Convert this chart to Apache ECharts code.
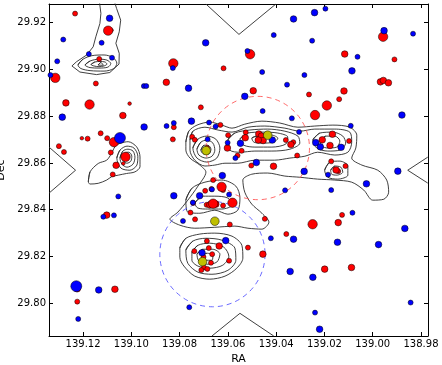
<!DOCTYPE html>
<html><head><meta charset="utf-8">
<script src="https://cdn.jsdelivr.net/npm/echarts@6/dist/echarts.min.js"></script>
<style>html,body{margin:0;padding:0;background:#fff}#c{width:442px;height:365px}</style>
</head><body><div id="c"></div>
<script>
// ---------- data (RA, Dec) ----------
const xTicks = [139.12, 139.10, 139.08, 139.06, 139.04, 139.02, 139.00, 138.98];
const yTicks = [29.80, 29.82, 29.84, 29.86, 29.88, 29.90, 29.92];
const raRange = [138.9771, 139.1341];
const decRange = [29.786, 29.928];

const redTiny = [[139.1082,29.9168],[139.1007,29.8854],[139.1205,29.8706],[139.1033,29.8598]];
const redSmall = [[139.1233,29.9239],[139.1133,29.9045],[139.1147,29.8940],[139.0712,29.8838],[139.0824,29.8753],[139.0828,29.8701],[139.1127,29.8727],[139.1181,29.8704],[139.1100,29.8706],[139.1300,29.8672],[139.1279,29.8647],[139.1085,29.8645],[139.1077,29.8551],[139.0748,29.8712],[139.0737,29.8699],[139.0686,29.8664],[139.0631,29.8763],[138.9910,29.9043],[139.0618,29.9005],[139.0264,29.8893],[139.0139,29.8873],[139.0599,29.8719],[139.0526,29.8731],[139.0543,29.8652],[139.0560,29.8632],[139.0360,29.8698],[139.0329,29.8689],[139.0098,29.8694],[139.0313,29.8632],[139.0503,29.8589],[139.0172,29.8607],[139.0113,29.8587],[139.0143,29.8565],[139.0661,29.8527],[139.0620,29.8484],[139.0694,29.8481],[139.0668,29.8489],[139.0688,29.8421],[139.0620,29.8418],[139.0744,29.8429],[139.0755,29.8388],[139.0736,29.8359],[139.0592,29.8337],[139.0517,29.8238],[139.0687,29.8266],[139.0679,29.8236],[139.0739,29.8223],[139.0665,29.8210],[139.0701,29.8198],[139.0595,29.8182],[139.0699,29.8153],[139.0685,29.8147],[139.0710,29.8142],[139.0670,29.8173],[139.0447,29.8361],[139.0358,29.8296],[139.0127,29.8378],[139.1224,29.8007]];
const redMedium = [[139.0855,29.8945],[139.1271,29.8857],[139.1035,29.8803],[139.1063,29.8590],[139.0116,29.9066],[138.9968,29.8947],[138.9956,29.8953],[138.9935,29.8943],[139.0495,29.8909],[139.0119,29.8908],[139.0528,29.8708],[139.0602,29.8664],[139.0472,29.8724],[139.0461,29.8715],[139.0454,29.8696],[139.0474,29.8698],[139.0339,29.8679],[139.0209,29.8699],[139.0167,29.8723],[139.0177,29.8675],[139.0411,29.8586],[139.0152,29.8570],[139.0675,29.8421],[139.0650,29.8424],[139.0636,29.8245],[139.0455,29.8210],[139.0143,29.8345],[139.0199,29.8146],[139.0088,29.8153],[139.1224,29.8062],[139.1068,29.8060],[139.1102,29.8377]];
const redLarge = [[139.1096,29.9166],[139.0826,29.9026],[139.1315,29.8964],[139.1173,29.8850],[139.1072,29.8689],[139.1024,29.8626],[139.0508,29.9065],[138.9957,29.9140],[139.0190,29.8846],[139.0239,29.8805],[139.0626,29.8498],[139.0581,29.8430],[139.0661,29.8426],[139.0249,29.8338]];

const blueSmall = [[139.1282,29.9128],[139.1123,29.9114],[139.1176,29.9066],[139.1080,29.9050],[139.1307,29.9035],[139.0828,29.9006],[139.1335,29.8976],[139.0948,29.8929],[139.0938,29.8929],[139.0854,29.8758],[139.0824,29.8771],[139.0684,29.8701],[139.0678,29.8773],[139.0651,29.8756],[139.0196,29.9260],[139.0410,29.9147],[139.0251,29.9123],[138.9833,29.9153],[139.0519,29.9079],[139.0063,29.9054],[139.0458,29.8989],[139.0283,29.8976],[139.0355,29.8935],[139.0456,29.8822],[139.0335,29.8791],[139.0091,29.8759],[139.0305,29.8733],[139.0601,29.8687],[139.0569,29.8621],[139.0185,29.8550],[139.1054,29.8457],[139.1116,29.8370],[139.1072,29.8376],[139.0745,29.8431],[139.0786,29.8352],[139.1220,29.7933],[139.0760,29.7983],[139.0666,29.8487],[139.0595,29.8465],[139.0422,29.8278],[139.0084,29.8387],[138.9843,29.8003],[139.0239,29.7960],[139.0363,29.8483],[139.0172,29.8484]];
const blueMedium = [[139.1090,29.9219],[139.0692,29.9114],[139.0763,29.8920],[139.1286,29.8796],[139.0947,29.8754],[139.0751,29.8779],[139.0328,29.9216],[139.0241,29.9243],[138.9953,29.9166],[139.0086,29.8994],[139.0530,29.8885],[138.9879,29.8805],[139.0416,29.8698],[139.0548,29.8684],[139.0236,29.8687],[139.0217,29.8669],[139.0131,29.8667],[139.0482,29.8602],[139.0284,29.8564],[138.9896,29.8565],[139.0623,29.8546],[139.0824,29.8460],[139.0717,29.8460],[139.0707,29.8216],[139.1135,29.8057],[139.0609,29.8268],[139.0328,29.8274],[139.0146,29.8261],[138.9976,29.8251],[138.9867,29.8320],[139.0342,29.8136],[139.0248,29.8111],[139.0220,29.7889],[139.0026,29.8511]];
const blueLarge = [[139.1047,29.8707],[139.1228,29.8073]];
const yellowPts = [[139.0690,29.8653],[139.0435,29.8719],[139.0654,29.8351],[139.0705,29.8178]];

// dashed circles: [RA, Dec, radius in Dec]
const redCircle = [[139.0476, 29.8664, 0.0221]];
const blueCircle = [[139.0664, 29.8210, 0.0225]];

// open contour lines (edge features)
const contourOpen = [
  [[139.1133,29.9297],[139.1126,29.9240],[139.1130,29.9197],[139.1147,29.9140],[139.1158,29.9097],[139.1185,29.9062],[139.1227,29.9033],[139.1246,29.9015],[139.1213,29.8989],[139.1144,29.8978],[139.1089,29.8987],[139.1051,29.9023],[139.1050,29.9069],[139.1064,29.9112],[139.1050,29.9161],[139.1044,29.9211],[139.1061,29.9261],[139.1072,29.9297]],
  [[139.0691,29.9280],[139.0554,29.9150],[139.0401,29.9280]],
  [[139.1341,29.8668],[139.1231,29.8569],[139.1341,29.8471]],
  [[138.9772,29.8625],[138.9855,29.8569],[138.9772,29.8514]],
  [[139.0666,29.7860],[139.0550,29.7957],[139.0410,29.7860]]
];
// closed contour lines
const contourClosed = [
  [[139.1221,29.9019],[139.1200,29.9044],[139.1163,29.9059],[139.1113,29.9062],[139.1076,29.9051],[139.1060,29.9027],[139.1072,29.9004],[139.1113,29.8993],[139.1171,29.8995],[139.1209,29.9004]],
  [[139.1192,29.9019],[139.1171,29.9036],[139.1134,29.9044],[139.1101,29.9040],[139.1085,29.9025],[139.1097,29.9010],[139.1134,29.9006],[139.1171,29.9008]],
  [[139.1167,29.9021],[139.1151,29.9032],[139.1130,29.9034],[139.1109,29.9032],[139.1101,29.9023],[139.1113,29.9015],[139.1134,29.9012],[139.1155,29.9015]],
  [[139.1138,29.9019],[139.1126,29.9030],[139.1116,29.9018]],
  [[139.1178,29.8519],[139.1171,29.8562],[139.1137,29.8598],[139.1102,29.8612],[139.1082,29.8641],[139.1068,29.8669],[139.1047,29.8684],[139.1013,29.8691],[139.0978,29.8669],[139.0964,29.8626],[139.0964,29.8584],[139.0985,29.8562],[139.1020,29.8555],[139.1054,29.8548],[139.1082,29.8541],[139.1102,29.8527],[139.1137,29.8513],[139.1171,29.8510]],
  [[139.1060,29.8621],[139.1047,29.8655],[139.1018,29.8672],[139.0989,29.8664],[139.0973,29.8629],[139.0977,29.8591],[139.1006,29.8569],[139.1043,29.8578]],
  [[139.1047,29.8621],[139.1035,29.8651],[139.1014,29.8659],[139.0993,29.8651],[139.0985,29.8625],[139.0993,29.8595],[139.1018,29.8582],[139.1039,29.8595]],
  [[139.1035,29.8625],[139.1027,29.8644],[139.1010,29.8646],[139.0998,29.8629],[139.1002,29.8608],[139.1018,29.8599],[139.1031,29.8608]],
  [[139.0774,29.8689],[139.0762,29.8736],[139.0728,29.8762],[139.0675,29.8775],[139.0625,29.8762],[139.0583,29.8749],[139.0530,29.8766],[139.0459,29.8779],[139.0385,29.8771],[139.0310,29.8753],[139.0240,29.8758],[139.0165,29.8762],[139.0095,29.8753],[139.0066,29.8719],[139.0070,29.8664],[139.0087,29.8621],[139.0045,29.8591],[138.9979,29.8569],[138.9942,29.8527],[138.9934,29.8475],[138.9954,29.8445],[139.0000,29.8441],[139.0037,29.8484],[139.0087,29.8518],[139.0157,29.8527],[139.0228,29.8531],[139.0302,29.8539],[139.0364,29.8544],[139.0435,29.8557],[139.0501,29.8552],[139.0538,29.8527],[139.0530,29.8475],[139.0501,29.8424],[139.0459,29.8385],[139.0430,29.8347],[139.0459,29.8317],[139.0517,29.8321],[139.0571,29.8330],[139.0654,29.8325],[139.0737,29.8321],[139.0799,29.8334],[139.0840,29.8360],[139.0807,29.8390],[139.0766,29.8441],[139.0724,29.8501],[139.0691,29.8561],[139.0716,29.8591],[139.0757,29.8621],[139.0774,29.8655]],
  [[139.0757,29.8698],[139.0745,29.8736],[139.0695,29.8753],[139.0641,29.8741],[139.0583,29.8732],[139.0517,29.8753],[139.0447,29.8758],[139.0364,29.8749],[139.0302,29.8736],[139.0240,29.8745],[139.0157,29.8745],[139.0095,29.8732],[139.0087,29.8689],[139.0103,29.8646],[139.0157,29.8634],[139.0228,29.8646],[139.0281,29.8629],[139.0343,29.8621],[139.0406,29.8612],[139.0488,29.8612],[139.0559,29.8599],[139.0612,29.8599],[139.0654,29.8591],[139.0695,29.8587],[139.0737,29.8612],[139.0757,29.8655]],
  [[139.0600,29.8698],[139.0571,29.8728],[139.0509,29.8741],[139.0435,29.8745],[139.0364,29.8736],[139.0310,29.8715],[139.0302,29.8685],[139.0343,29.8659],[139.0418,29.8651],[139.0488,29.8651],[139.0550,29.8646],[139.0592,29.8655]],
  [[139.0550,29.8702],[139.0517,29.8728],[139.0459,29.8732],[139.0393,29.8728],[139.0352,29.8711],[139.0360,29.8681],[139.0418,29.8668],[139.0488,29.8668],[139.0534,29.8676]],
  [[139.0501,29.8706],[139.0468,29.8719],[139.0418,29.8719],[139.0393,29.8706],[139.0410,29.8689],[139.0459,29.8685],[139.0492,29.8689]],
  [[139.0745,29.8664],[139.0724,29.8702],[139.0687,29.8715],[139.0650,29.8702],[139.0633,29.8664],[139.0646,29.8621],[139.0687,29.8604],[139.0728,29.8621]],
  [[139.0728,29.8659],[139.0712,29.8689],[139.0687,29.8698],[139.0662,29.8685],[139.0654,29.8655],[139.0666,29.8629],[139.0691,29.8621],[139.0720,29.8634]],
  [[139.0712,29.8655],[139.0699,29.8676],[139.0683,29.8676],[139.0670,29.8659],[139.0679,29.8638],[139.0699,29.8638]],
  [[139.0248,29.8698],[139.0219,29.8728],[139.0165,29.8732],[139.0124,29.8715],[139.0112,29.8685],[139.0136,29.8655],[139.0186,29.8651],[139.0232,29.8664]],
  [[139.0219,29.8694],[139.0194,29.8715],[139.0157,29.8715],[139.0136,29.8694],[139.0149,29.8668],[139.0186,29.8664],[139.0211,29.8672]],
  [[139.0199,29.8569],[139.0178,29.8604],[139.0136,29.8608],[139.0103,29.8587],[139.0103,29.8548],[139.0145,29.8531],[139.0186,29.8539]],
  [[139.0174,29.8569],[139.0157,29.8587],[139.0132,29.8582],[139.0124,29.8561],[139.0149,29.8548],[139.0170,29.8552]],
  [[139.0774,29.8441],[139.0749,29.8492],[139.0695,29.8518],[139.0625,29.8527],[139.0567,29.8501],[139.0550,29.8450],[139.0559,29.8398],[139.0600,29.8381],[139.0654,29.8398],[139.0716,29.8385],[139.0766,29.8390]],
  [[139.0737,29.8428],[139.0704,29.8458],[139.0654,29.8458],[139.0600,29.8450],[139.0583,29.8420],[139.0625,29.8403],[139.0683,29.8403],[139.0724,29.8407]],
  [[139.0799,29.8236],[139.0774,29.8278],[139.0716,29.8296],[139.0654,29.8300],[139.0583,29.8287],[139.0542,29.8248],[139.0538,29.8193],[139.0563,29.8150],[139.0612,29.8116],[139.0675,29.8103],[139.0737,29.8116],[139.0782,29.8159],[139.0799,29.8197]],
  [[139.0774,29.8227],[139.0745,29.8266],[139.0691,29.8278],[139.0625,29.8270],[139.0571,29.8236],[139.0567,29.8184],[139.0600,29.8141],[139.0666,29.8124],[139.0724,29.8133],[139.0766,29.8171]],
  [[139.0749,29.8218],[139.0724,29.8248],[139.0675,29.8257],[139.0617,29.8240],[139.0596,29.8201],[139.0621,29.8163],[139.0675,29.8150],[139.0724,29.8159],[139.0749,29.8184]],
  [[139.0728,29.8210],[139.0704,29.8231],[139.0662,29.8231],[139.0633,29.8210],[139.0646,29.8176],[139.0687,29.8167],[139.0720,29.8180]],
  [[139.0708,29.8201],[139.0687,29.8214],[139.0662,29.8206],[139.0666,29.8184],[139.0695,29.8184]]
];

// ---------- chart ----------
const FONT = 'DejaVu Sans';
const chart = echarts.init(document.getElementById('c'), null, {renderer: 'canvas'});

function axisCommon(ticks, show) {
  return {
    axisLine: {show: true, onZero: false, lineStyle: {color: '#000', width: 1}},
    axisTick: {show: true, inside: true, length: 4, customValues: ticks, lineStyle: {color: '#000', width: 1}},
    axisLabel: {show: show, customValues: ticks, formatter: v => Number(v).toFixed(2),
      color: '#000', fontFamily: FONT, fontSize: 10, margin: 3},
    splitLine: {show: false}
  };
}

const series = [];
const contourStyle = {color: '#2a2a2a', width: 0.9};
contourOpen.forEach(c => series.push({type: 'line', data: c, symbol: 'none', silent: true,
  lineStyle: contourStyle, z: 3, animation: false}));
contourClosed.forEach(c => series.push({type: 'line', data: c.concat([c[0], c[1]]), symbol: 'none', silent: true,
  smooth: 0.3, lineStyle: contourStyle, z: 3, animation: false}));

function circleSeries(d, color) {
  return {type: 'custom', data: d, z: 4, silent: true, animation: false,
    renderItem: (params, api) => {
      const c = api.coord([api.value(0), api.value(1)]);
      const s = api.size([0, api.value(2)]);
      return {type: 'circle', shape: {cx: c[0], cy: c[1], r: s[1]},
        style: {fill: 'none', stroke: color, lineWidth: 1, lineDash: [5, 4]}};
    }};
}
series.push(circleSeries(redCircle, 'rgba(255,70,70,0.8)'));
series.push(circleSeries(blueCircle, 'rgba(70,70,255,0.8)'));

function pts(d, color, size) {
  return {type: 'scatter', data: d, symbolSize: size, z: 5, animation: false,
    itemStyle: {color: color, borderColor: '#000', borderWidth: 0.5, opacity: 1}};
}
series.push(pts(redTiny, '#ff0000', 3.6));
series.push(pts(redSmall, '#ff0000', 5));
series.push(pts(redMedium, '#ff0000', 6.6));
series.push(pts(redLarge, '#ff0000', 9.4));
series.push(pts(blueSmall, '#0000ff', 5));
series.push(pts(blueMedium, '#0000ff', 6.6));
series.push(pts(blueLarge, '#0000ff', 11));
series.push(pts(yellowPts, '#bfbf00', 8.6));

chart.setOption({
  animation: false,
  backgroundColor: '#fff',
  grid: {left: 49, right: 14, top: 4, bottom: 29, containLabel: false, outerBoundsMode: 'none'},
  xAxis: [
    Object.assign({type: 'value', min: raRange[0], max: raRange[1], inverse: true, position: 'bottom',
      name: 'RA', nameLocation: 'middle', nameGap: 13,
      nameTextStyle: {fontFamily: FONT, fontSize: 11, color: '#000'}}, axisCommon(xTicks, true)),
    Object.assign({type: 'value', min: raRange[0], max: raRange[1], inverse: true, position: 'top'}, axisCommon(xTicks, false))
  ],
  yAxis: [
    Object.assign({type: 'value', min: decRange[0], max: decRange[1], position: 'left',
      name: 'Dec', nameLocation: 'middle', nameGap: 34,
      nameTextStyle: {fontFamily: FONT, fontSize: 11, color: '#000'}}, axisCommon(yTicks, true)),
    Object.assign({type: 'value', min: decRange[0], max: decRange[1], position: 'right'}, axisCommon(yTicks, false))
  ],
  series: series
});
</script></body></html>
